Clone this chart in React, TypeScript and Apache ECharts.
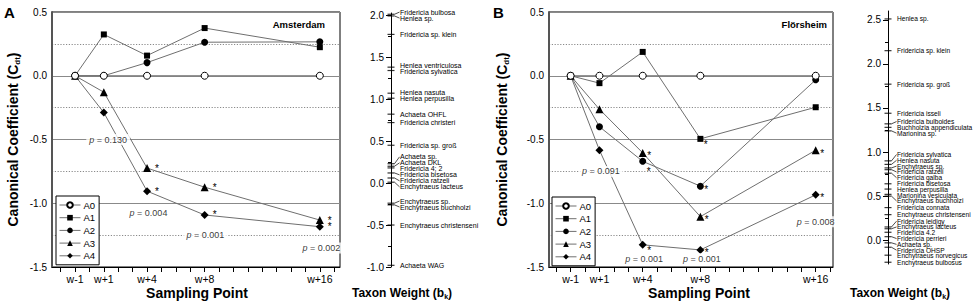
import React, { useEffect, useRef } from "react";
import * as echarts from "echarts";

// ---------- data ----------
const sampleWeeks = [-1, 1, 4, 8, 16];
const weekTicks = [-2, -1, 0, 1, 2, 3, 4, 5, 6, 7, 8, 9, 10, 11, 12, 13, 14, 15, 16, 17];
const groupNames = ["A0", "A1", "A2", "A3", "A4"];

// Panel A: Amsterdam
const amsA0 = [0, 0, 0, 0, 0];
const amsA1 = [0, 0.324, 0.158, 0.374, 0.224];
const amsA2 = [0, 0, 0.103, 0.263, 0.266];
const amsA3 = [0, -0.129, -0.724, -0.874, -1.132];
const amsA4 = [0, -0.289, -0.905, -1.092, -1.184];
// significance markers: 0 = none, 1 = star level with point, 2 = slightly lower, 3 = lower
const amsSignificant = [
  [0, 0, 0, 0, 0],
  [0, 0, 0, 0, 0],
  [0, 0, 0, 0, 0],
  [0, 0, 1, 1, 1],
  [0, 0, 1, 1, 1],
];
const amsPWeek = [1.3, 4.1, 8.05, 16.1];
const amsPCoef = [-0.5, -1.075, -1.25, -1.35];
const amsPText = ["0.130", "0.004", "0.001", "0.002"];

// Panel B: Flörsheim
const flrA0 = [0, 0, 0, 0, 0];
const flrA1 = [0, -0.058, 0.187, -0.495, -0.247];
const flrA2 = [0, -0.4, -0.671, -0.866, -0.032];
const flrA3 = [0, -0.263, -0.605, -1.105, -0.584];
const flrA4 = [0, -0.584, -1.326, -1.366, -0.934];
const flrSignificant = [
  [0, 0, 0, 0, 0],
  [0, 0, 0, 2, 0],
  [0, 0, 3, 1, 0],
  [0, 0, 1, 1, 1],
  [0, 0, 2, 1, 1],
];
const flrPWeek = [1.1, 4.1, 8.1, 16.0];
const flrPCoef = [-0.75, -1.435, -1.435, -1.145];
const flrPText = ["0.091", "0.001", "0.001", "0.008"];

// Taxon weights A
const amsTaxa = [
  "Fridericia bulbosa", "Henlea sp.", "Fridericia sp. klein", "Henlea ventriculosa",
  "Fridericia sylvatica", "Henlea nasuta", "Henlea perpusilla", "Achaeta OHFL",
  "Fridericia christeri", "Fridericia sp. groß", "Achaeta sp.", "Achaeta DKL",
  "Fridericia 4; 2", "Fridericia bisetosa", "Fridericia ratzeli", "Enchytraeus lacteus",
  "Enchytraeus sp.", "Enchytraeus buchholzi", "Enchytraeus christenseni", "Achaeta WAG",
];
const amsWeights = [
  2.01, 1.99, 1.77, 1.38, 1.34, 1.07, 1.01, 0.82, 0.72, 0.45, 0.23, 0.2, 0.18, 0.12,
  0.06, 0.01, -0.24, -0.26, -0.5, -0.98,
];
const amsWeightTicks = [-1, -0.5, 0, 0.5, 1, 1.5, 2];
const amsWeightMinor = [-0.75, -0.25, 0.25, 0.75, 1.25, 1.75];

// Taxon weights B
const flrTaxa = [
  "Henlea sp.", "Fridericia sp. klein", "Fridericia sp. groß", "Fridericia isseli",
  "Fridericia bulboides", "Buchholzia appendiculata", "Marionina sp.",
  "Fridericia sylvatica", "Henlea nasuta", "Enchytraeus sp.", "Fridericia ratzeli",
  "Fridericia galba", "Fridericia bisetosa", "Henlea perpusilla", "Marionina vesiculata",
  "Enchytraeus buchholzi", "Fridericia connata", "Enchytraeus christenseni",
  "Fridericia leidigy", "Enchytraeus lacteus", "Fridericia 4.2", "Fridericia perrieri",
  "Achaeta sp.", "Fridericia OHSP", "Enchytraeus norvegicus", "Enchytraeus bulbosus",
];
const flrWeights = [
  2.51, 2.15, 1.77, 1.44, 1.32, 1.28, 1.24, 0.9, 0.86, 0.82, 0.8, 0.76, 0.64, 0.58,
  0.52, 0.5, 0.37, 0.29, 0.15, 0.13, 0.09, 0.04, -0.03, -0.08, -0.17, -0.25,
];
const flrWeightTicks = [0, 0.5, 1, 1.5, 2, 2.5];
const flrWeightMinor = [0.25, 0.75, 1.25, 1.75, 2.25];

// ---------- styling ----------
const FONT = "'Liberation Sans Narrow','Arial Narrow','Liberation Sans',Arial,sans-serif";
const FONT_W = "'Liberation Sans',Arial,sans-serif";
const symbols = ["circle", "rect", "circle", "triangle", "diamond"];
const symbolSizes = [7, 6, 7, 8, 8];
const LINE = "#6f6f6f";
const GRIDC = "#8a8a8a";
const starDrop = [0, 0, 3, 7];

function weekLabel(v: number) {
  return v < 0 ? "w" + v : "w+" + v;
}

function panelSeries(
  values: number[][],
  sig: number[][],
  axis: number,
  starDistance: number,
  starBaseDy: number
) {
  return groupNames.map((name, k) => ({
    type: "line",
    name,
    color: "#000",
    xAxisIndex: axis,
    yAxisIndex: axis * 2,
    symbol: symbols[k],
    symbolSize: symbolSizes[k],
    silent: true,
    z: k === 0 ? 6 : 3,
    lineStyle: { color: LINE, width: 1 },
    itemStyle:
      k === 0
        ? { color: "#fff", borderColor: "#000", borderWidth: 1 }
        : { color: "#000", borderWidth: 0 },
    data: sampleWeeks.map((w, i) => {
      const item: any = { value: [w, values[k][i]] };
      const s = sig[k][i];
      if (s) {
        item.label = {
          show: true,
          formatter: "*",
          position: "right",
          distance: starDistance,
          offset: [0, starBaseDy + starDrop[s]],
          fontSize: 10,
          fontFamily: FONT_W,
          color: "#000",
          textBorderWidth: 0,
        };
      }
      return item;
    }),
  }));
}

function pSeries(weeks: number[], coefs: number[], texts: string[], axis: number) {
  return {
    type: "scatter",
    color: "#000",
    xAxisIndex: axis,
    yAxisIndex: axis * 2,
    symbolSize: 1,
    silent: true,
    z: 10,
    itemStyle: { color: "rgba(0,0,0,0)" },
    label: {
      show: true,
      position: "inside",
      formatter: (p: any) => "{i|p} = " + texts[p.dataIndex],
      fontSize: 9,
      fontFamily: FONT_W,
      color: "#000",
      textBorderWidth: 0,
      backgroundColor: "#fff",
      padding: [1, 3],
      rich: { i: { fontStyle: "italic", fontSize: 9, fontFamily: FONT_W, color: "#000" } },
    },
    data: weeks.map((w, i) => [w, coefs[i]]),
  };
}

function taxonTickSeries(weights: number[], gridAxis: number, yIdx: number) {
  return {
    type: "scatter",
    color: "#000",
    xAxisIndex: gridAxis,
    yAxisIndex: yIdx,
    symbol: "rect",
    symbolSize: [7, 1.2],
    silent: true,
    itemStyle: { color: "#000" },
    data: weights.map((w) => [0, w]),
  };
}

function mainX(grid: number, min: number, max: number) {
  return {
    type: "value",
    gridIndex: grid,
    min,
    max,
    axisLine: { show: true, onZero: false, lineStyle: { color: "#000", width: 1 } },
    axisTick: { show: true, customValues: weekTicks, length: 5, lineStyle: { color: "#000" } },
    axisLabel: {
      customValues: sampleWeeks,
      formatter: (v: number) => weekLabel(v),
      fontSize: 10.5,
      fontFamily: FONT,
      color: "#000",
      margin: 6,
    },
    splitLine: { show: false },
  };
}

function mainY(grid: number) {
  return [
    {
      type: "value",
      gridIndex: grid,
      min: -1.5,
      max: 0.5,
      interval: 0.5,
      position: "left",
      axisLine: { show: true, onZero: false, lineStyle: { color: "#555", width: 2 } },
      axisTick: { show: false },
      axisLabel: {
        formatter: (v: number) => v.toFixed(1),
        fontSize: 10,
        fontFamily: FONT,
        color: "#000",
        margin: 5,
      },
      splitLine: { show: true, lineStyle: { color: GRIDC, width: 1 } },
    },
    {
      type: "value",
      gridIndex: grid,
      min: -1.5,
      max: 0.5,
      interval: 0.25,
      position: "left",
      axisLine: { show: false },
      axisTick: { show: false },
      axisLabel: { show: false },
      splitLine: { show: true, lineStyle: { color: GRIDC, width: 1, type: [1.2, 1.6] } },
    },
  ];
}

function taxonY(grid: number, min: number, max: number, major: number[], minor: number[]) {
  return [
    {
      type: "value",
      gridIndex: grid,
      min,
      max,
      position: "left",
      axisLine: { show: true, onZero: false, lineStyle: { color: "#000", width: 1 } },
      axisTick: { show: true, customValues: major, length: 5, lineStyle: { color: "#000" } },
      axisLabel: {
        customValues: major,
        formatter: (v: number) => v.toFixed(1),
        fontSize: 10,
        fontFamily: FONT,
        color: "#000",
        margin: 7,
      },
      splitLine: { show: false },
    },
    {
      type: "value",
      gridIndex: grid,
      min,
      max,
      position: "left",
      axisLine: { show: false },
      axisTick: { show: true, customValues: minor, length: 3, lineStyle: { color: "#000" } },
      axisLabel: { show: false },
      splitLine: { show: false },
    },
  ];
}

function legendAt(left: number, top: number) {
  return {
    data: groupNames,
    orient: "vertical",
    left,
    top,
    padding: [4, 4, 4, 3],
    itemWidth: 21,
    itemHeight: 7,
    itemGap: 2.7,
    backgroundColor: "#fff",
    borderColor: "#000",
    borderWidth: 1,
    selectedMode: false,
    lineStyle: { color: LINE, width: 1 },
    textStyle: { fontSize: 9.5, fontFamily: FONT_W, color: "#000", lineHeight: 10, padding: [0, 0, 0, -2] },
    z: 8,
  };
}

function spread(ys: number[], gap: number): number[] {
  let groups = ys.map((y) => ({ members: [y], top: y }));
  let changed = true;
  while (changed) {
    changed = false;
    for (let i = 1; i < groups.length; i++) {
      const a = groups[i - 1];
      const b = groups[i];
      if (a.top + a.members.length * gap > b.top + 1e-6) {
        const members = a.members.concat(b.members);
        const mean = members.reduce((s, v) => s + v, 0) / members.length;
        groups.splice(i - 1, 2, { members, top: mean - ((members.length - 1) * gap) / 2 });
        changed = true;
        break;
      }
    }
  }
  const out: number[] = [];
  groups.forEach((g) => g.members.forEach((_, j) => out.push(g.top + j * gap)));
  return out;
}

function text(x: number, y: number, t: string, style: any, extra: any = {}) {
  return {
    type: "text",
    x,
    y,
    silent: true,
    ...extra,
    style: { text: t, fill: "#000", fontFamily: FONT_W, textAlign: "center", textVerticalAlign: "middle", ...style },
  };
}

export default function App() {
  const ref = useRef<HTMLDivElement>(null);
  useEffect(() => {
    if (!ref.current) return;
    const chart = echarts.init(ref.current, null, { renderer: "svg" });
    const option: any = {
      animation: false,
      backgroundColor: "#fff",
      color: ["#000"],
      textStyle: { fontFamily: FONT, color: "#000" },
      grid: [
        { left: 52, top: 12, width: 288, height: 255, show: true, borderColor: "#000", borderWidth: 1, backgroundColor: "#fff" },
        { left: 391, top: 13, width: 22, height: 254 },
        { left: 549, top: 12, width: 284, height: 255, show: true, borderColor: "#000", borderWidth: 1, backgroundColor: "#fff" },
        { left: 888, top: 11, width: 24, height: 253 },
      ],
      xAxis: [
        mainX(0, -2.6, 17.4),
        { type: "value", gridIndex: 1, min: 0, max: 1, show: false },
        mainX(2, -2.5, 17.2),
        { type: "value", gridIndex: 3, min: 0, max: 1, show: false },
      ],
      yAxis: [
        ...mainY(0),
        ...taxonY(1, -1, 2.025, amsWeightTicks, amsWeightMinor),
        ...mainY(2),
        ...taxonY(3, -0.27, 2.6, flrWeightTicks, flrWeightMinor),
      ],
      legend: [legendAt(56, 196), legendAt(552, 197)],
      series: [
        ...panelSeries([amsA0, amsA1, amsA2, amsA3, amsA4], amsSignificant, 0, 4, 0),
        pSeries(amsPWeek, amsPCoef, amsPText, 0),
        taxonTickSeries(amsWeights, 1, 2),
        ...panelSeries([flrA0, flrA1, flrA2, flrA3, flrA4], flrSignificant, 2, 0.5, 3),
        pSeries(flrPWeek, flrPCoef, flrPText, 2),
        taxonTickSeries(flrWeights, 3, 6),
      ],
    };
    chart.setOption(option);

    const taxonLabels = (names: string[], weights: number[], gridIndex: number, fontSize: number, gap: number) => {
      const pts = weights.map((w, i) => {
        const p = chart.convertToPixel({ gridIndex } as any, [0, w]) as number[];
        return { i, x: p[0], y: p[1] };
      });
      pts.sort((a, b) => a.y - b.y);
      const pos = spread(pts.map((p) => p.y), gap);
      const els: any[] = [];
      pts.forEach((p, k) => {
        const ly = pos[k];
        els.push(text(p.x + 9, ly, names[p.i], { fontSize, fontFamily: FONT_W, textAlign: "left" }));
        if (Math.abs(ly - p.y) > 1.5) {
          els.push({
            type: "line",
            silent: true,
            shape: { x1: p.x + 3.5, y1: p.y, x2: p.x + 8.5, y2: ly },
            style: { stroke: "#000", lineWidth: 0.7 },
          });
        }
      });
      return els;
    };

    const bold = { fontWeight: "bold", fontFamily: FONT_W };
    const yTitle = (x: number) =>
      text(
        x,
        139.5,
        "Canonical Coefficient (C{s|dt})",
        {
          ...bold,
          fontSize: 14,
          lineHeight: 16,
          rich: {
            s: { fontSize: 8, fontWeight: "bold", fontFamily: FONT_W, verticalAlign: "bottom", lineHeight: 8 },
          },
        },
        { rotation: Math.PI / 2 }
      );
    const tTitle = (x: number) =>
      text(x, 293, "Taxon Weight (b{s|k})", {
        ...bold,
        fontSize: 12,
        lineHeight: 14,
        rich: { s: { fontSize: 7, fontWeight: "bold", fontFamily: FONT_W, verticalAlign: "bottom", lineHeight: 7 } },
      });

    chart.setOption({
      graphic: {
        elements: [
          text(4, 12, "A", { ...bold, fontSize: 15, textAlign: "left" }),
          text(493, 12, "B", { ...bold, fontSize: 15, textAlign: "left" }),
          text(325, 24, "Amsterdam", { ...bold, fontSize: 9.5, textAlign: "right" }),
          text(827, 24, "Flörsheim", { ...bold, fontSize: 9.5, textAlign: "right" }),
          yTitle(13),
          yTitle(502),
          text(197, 293, "Sampling Point", { ...bold, fontSize: 14 }),
          text(699, 293, "Sampling Point", { ...bold, fontSize: 14 }),
          tTitle(402),
          tTitle(900),
          ...taxonLabels(amsTaxa, amsWeights, 1, 7, 6),
          ...taxonLabels(flrTaxa, flrWeights, 3, 6.6, 5.8),
        ],
      },
    });
    return () => chart.dispose();
  }, []);
  return (
    <div
      ref={ref}
      style={{ position: "fixed", left: 0, top: 0, width: 975, height: 303, background: "#fff" }}
    />
  );
}
